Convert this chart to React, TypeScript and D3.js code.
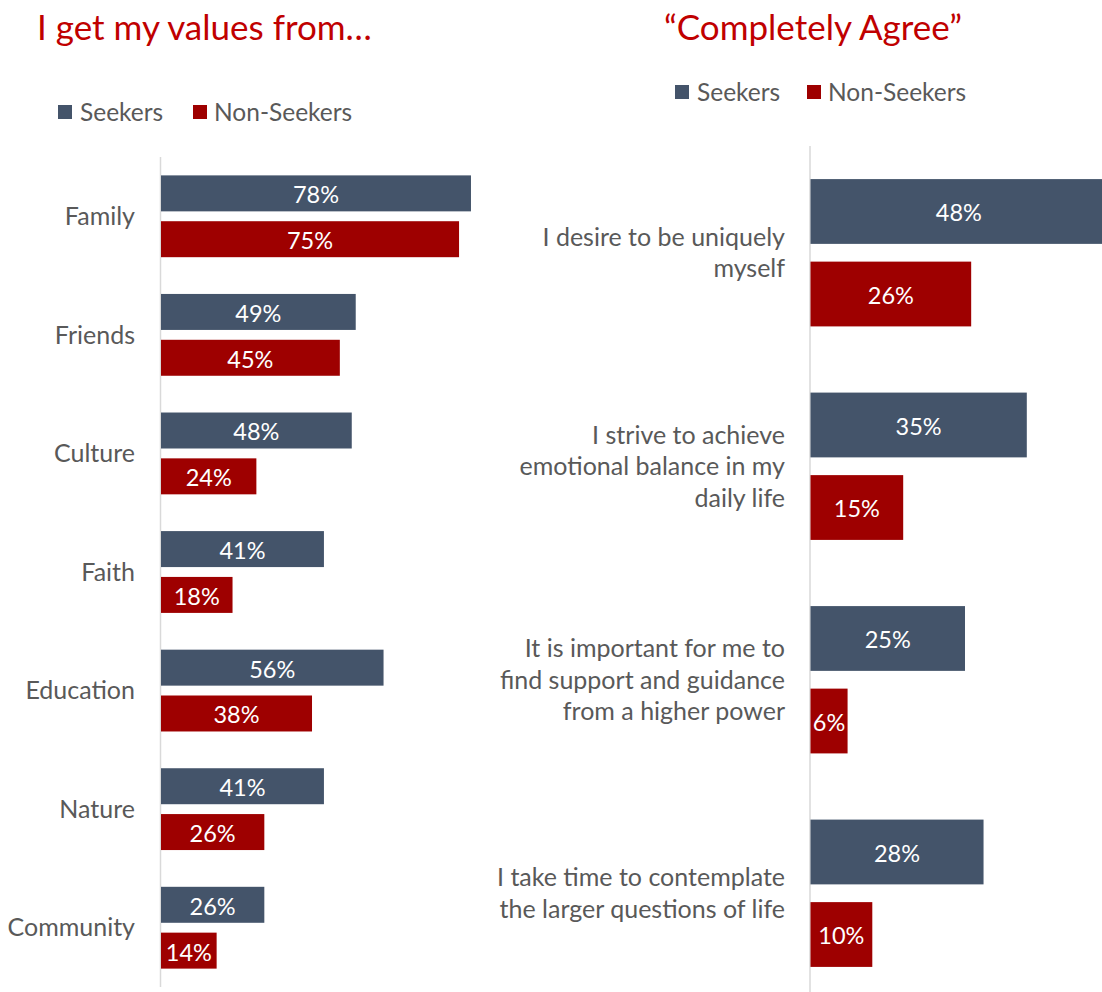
import React from "react";
import * as d3 from "d3";

const sourceCategories = ["Family", "Friends", "Culture", "Faith", "Education", "Nature", "Community"];
const sourceSeekers = [78, 49, 48, 41, 56, 41, 26];
const sourceNonSeekers = [75, 45, 24, 18, 38, 26, 14];

const statementCategories = [
  "I desire to be uniquely\nmyself",
  "I strive to achieve\nemotional balance in my\ndaily life",
  "It is important for me to\nfind support and guidance\nfrom a higher power",
  "I take time to contemplate\nthe larger questions of life",
];
const statementSeekers = [48, 35, 25, 28];
const statementNonSeekers = [26, 15, 6, 10];

const seriesNames = ["Seekers", "Non-Seekers"];
const seriesColors = ["#44546A", "#9E0000"];

const FONT = "Lato, 'Open Sans', sans-serif";
const TEXT_GRAY = "#595959";
const TITLE_RED = "#C00000";

type PanelProps = {
  id: string;
  title: string;
  titleX: number;
  titleAnchor: "start" | "middle";
  legendX: number;
  legendY: number;
  legendGap: number;
  categories: string[];
  seekers: number[];
  nonSeekers: number[];
  axisX: number;
  yRange: [number, number];
  pxPerUnit: number;
  labelX: number;
  lineHeight: number;
};

function Panel(p: PanelProps) {
  const y = d3
    .scaleBand<string>()
    .domain(p.categories)
    .range(p.yRange)
    .paddingInner(0.31)
    .paddingOuter(0.155);
  const inner = d3
    .scaleBand<string>()
    .domain(seriesNames)
    .range([0, y.bandwidth()])
    .paddingInner(0.215);
  const x = d3
    .scaleLinear()
    .domain([0, 100])
    .range([p.axisX + 0.5, p.axisX + 0.5 + p.pxPerUnit * 100]);

  const rows = p.categories.map((c, i) => ({
    cat: c,
    vals: [p.seekers[i], p.nonSeekers[i]],
  }));

  return (
    <g>
      <text
        x={p.titleX}
        y={40}
        fontFamily={FONT}
        fontSize={35}
        fill={TITLE_RED}
        textAnchor={p.titleAnchor}
      >
        {p.title}
      </text>
      <g transform={`translate(${p.legendX},${p.legendY})`}>
        <rect x={0} y={-7} width={14} height={14} fill={seriesColors[0]} />
        <text x={22} y={0} dy="0.35em" fontFamily={FONT} fontSize={24.5} fill={TEXT_GRAY}>
          {seriesNames[0]}
        </text>
        <rect x={p.legendGap} y={-7} width={14} height={14} fill={seriesColors[1]} />
        <text x={p.legendGap + 21} y={0} dy="0.35em" fontFamily={FONT} fontSize={24.5} fill={TEXT_GRAY}>
          {seriesNames[1]}
        </text>
      </g>
      <line
        x1={p.axisX}
        x2={p.axisX}
        y1={p.yRange[0]}
        y2={p.yRange[1]}
        stroke="#D9D9D9"
        strokeWidth={1.5}
      />
      {rows.map((r, i) => {
        const y0 = y(r.cat)!;
        const lines = r.cat.split("\n");
        const cy = y0 + y.bandwidth() / 2;
        const startY = cy - ((lines.length - 1) * p.lineHeight) / 2;
        return (
          <g key={r.cat}>
            <text
              x={p.labelX}
              fontFamily={FONT}
              fontSize={25}
              fill={TEXT_GRAY}
              textAnchor="end"
            >
              {lines.map((ln, k) => (
                <tspan key={k} x={p.labelX} y={startY + k * p.lineHeight} dy="0.35em">
                  {ln}
                </tspan>
              ))}
            </text>
            {r.vals.map((v, s) => {
              const by = y0 + inner(seriesNames[s])!;
              const bh = inner.bandwidth();
              const bx = x(0);
              const bw = x(v) - x(0);
              const clipId = `${p.id}-clip-${i}-${s}`;
              return (
                <g key={s}>
                  <clipPath id={clipId}>
                    <rect x={bx} y={by} width={bw} height={bh} />
                  </clipPath>
                  <rect x={bx} y={by} width={bw} height={bh} fill={seriesColors[s]} />
                  <text
                    x={bx + bw / 2}
                    y={by + bh / 2}
                    dy="0.42em"
                    textAnchor="middle"
                    fontFamily={FONT}
                    fontSize={23.5}
                    fill="#FFFFFF"
                    clipPath={`url(#${clipId})`}
                  >
                    {`${v}%`}
                  </text>
                </g>
              );
            })}
          </g>
        );
      })}
    </g>
  );
}

export default function App() {
  return (
    <svg
      width={1102}
      height={992}
      style={{ position: "absolute", left: 0, top: 0, background: "#fff" }}
    >
      <Panel
        id="left"
        title="I get my values from…"
        titleX={37}
        titleAnchor="start"
        legendX={58}
        legendY={112}
        legendGap={135}
        categories={sourceCategories}
        seekers={sourceSeekers}
        nonSeekers={sourceNonSeekers}
        axisX={160.5}
        yRange={[157, 987]}
        pxPerUnit={3.974}
        labelX={135}
        lineHeight={31.5}
      />
      <Panel
        id="right"
        title="“Completely Agree”"
        titleX={813}
        titleAnchor="middle"
        legendX={675}
        legendY={92}
        legendGap={132}
        categories={statementCategories}
        seekers={statementSeekers}
        nonSeekers={statementNonSeekers}
        axisX={810}
        yRange={[146, 1000]}
        pxPerUnit={6.18}
        labelX={785}
        lineHeight={31.5}
      />
    </svg>
  );
}
